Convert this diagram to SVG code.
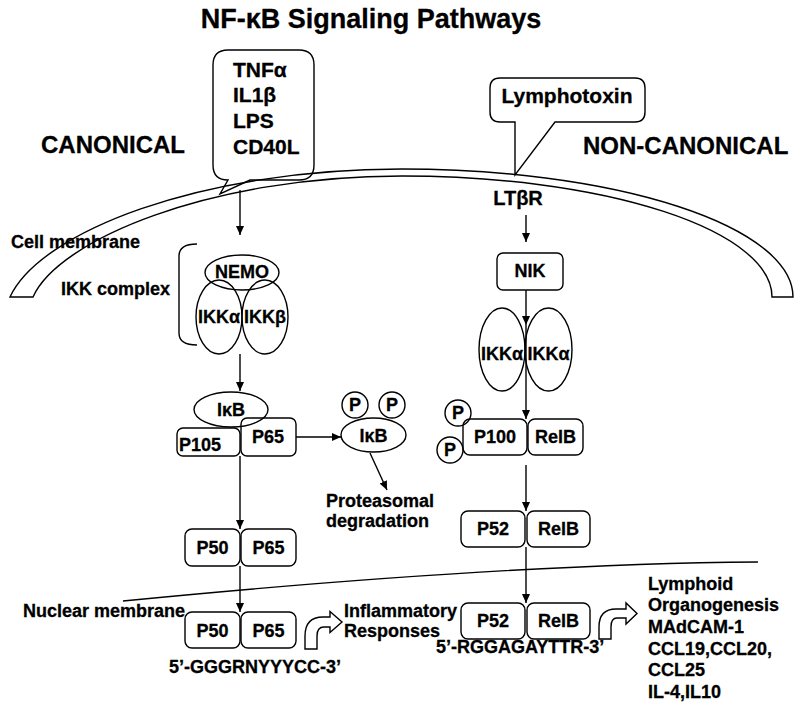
<svg xmlns="http://www.w3.org/2000/svg" width="800" height="707" viewBox="0 0 800 707">
<defs>
<marker id="ah" markerUnits="userSpaceOnUse" markerWidth="10" markerHeight="10" refX="9" refY="4.5" orient="auto">
<path d="M0,0.5 L9,4.5 L0,8.5 Z" fill="#000"/>
</marker>
<style>
text{font-family:"Liberation Sans",Arial,sans-serif;font-weight:bold;fill:#000;stroke:#000;stroke-width:0.3;}
.t18{font-size:18px;}
.t21{font-size:21px;}
.t24{font-size:24px;}
.mid{text-anchor:middle;}
.box{fill:none;stroke:#000;stroke-width:1.4;}
.ln{fill:none;stroke:#000;stroke-width:1.4;}
.arr{fill:none;stroke:#000;stroke-width:1.4;marker-end:url(#ah);}
</style>
</defs>
<rect width="800" height="707" fill="#fff"/>

<text x="371" y="28" class="mid" style="font-size:27px">NF-κB Signaling Pathways</text>
<text x="41" y="153" class="t24">CANONICAL</text>
<text x="583" y="154" class="t24">NON-CANONICAL</text>

<g id="stimulus-canonical">
<path class="box" d="M228,50 H299 Q314,50 314,65 V165 Q314,180 299,180 H250 L220,194 L228,180 Q213,180 213,165 V65 Q213,50 228,50 Z"/>
<text x="233" y="77" class="t21">TNFα</text>
<text x="233" y="102" class="t21">IL1β</text>
<text x="233" y="128" class="t21">LPS</text>
<text x="233" y="154" class="t21">CD40L</text>
</g>

<g id="stimulus-lymphotoxin">
<path class="box" d="M500,78 H635 Q645,78 645,88 V112 Q645,122 635,122 H555 L515,175 L515,122 H500 Q490,122 490,112 V88 Q490,78 500,78 Z" fill="#fff"/>
<text x="567" y="103" class="t21 mid">Lymphotoxin</text>
</g>

<g id="cell-membrane">
<path class="ln" d="M10,297 C40,232 200,169 401.5,169 A391.5,128 0 0 1 793,297 L772,297 A370,121 0 0 0 402,176 C210,176 58,240 33,297 Z"/>
<text x="11" y="248" class="t18">Cell membrane</text>
</g>

<g id="nuclear-membrane">
<path class="ln" d="M123,601 Q500,564 758,562"/>
<text x="23" y="617" class="t18">Nuclear membrane</text>
</g>

<g id="ikk-complex">
<path class="ln" d="M197,244 Q179,244 179,256 V333 Q179,345 197,345"/>
<text x="61" y="295" class="t18">IKK complex</text>
<ellipse cx="219" cy="317" rx="23" ry="37" class="box"/>
<ellipse cx="265" cy="317" rx="23" ry="37" class="box"/>
<ellipse cx="242" cy="272.5" rx="37" ry="17.5" class="box"/>
<text x="242" y="278" class="t18 mid">NEMO</text>
<text x="219" y="323" class="t18 mid">IKKα</text>
<text x="265" y="323" class="t18 mid">IKKβ</text>
</g>

<g id="ikb-p105-p65">
<rect x="177" y="428" width="63" height="28" rx="6" class="box"/>
<rect x="241" y="418" width="55" height="38" rx="6" class="box"/>
<ellipse cx="231" cy="409.5" rx="37" ry="17.5" class="box"/>
<text x="231" y="416" class="t18 mid">IκB</text>
<text x="179" y="451" class="t18">P105</text>
<text x="268" y="443" class="t18 mid">P65</text>
</g>

<g id="p-ikb">
<circle cx="355" cy="405" r="13" class="box"/>
<circle cx="392" cy="405" r="13" class="box"/>
<text x="355" y="411" class="t18 mid">P</text>
<text x="392" y="411" class="t18 mid">P</text>
<ellipse cx="373.5" cy="435" rx="32.5" ry="17" class="box"/>
<text x="373.5" y="442" class="t18 mid">IκB</text>
</g>

<g id="proteasomal">
<text x="326" y="507" class="t18">Proteasomal</text>
<text x="326" y="527" class="t18">degradation</text>
</g>

<g id="p50-p65-cyto">
<rect x="185" y="529" width="55" height="37" rx="7" class="box"/>
<rect x="241" y="529" width="55" height="37" rx="7" class="box"/>
<text x="212.5" y="554" class="t18 mid">P50</text>
<text x="268.5" y="554" class="t18 mid">P65</text>
</g>

<g id="p50-p65-nuc">
<rect x="185" y="612" width="55" height="36" rx="7" class="box"/>
<rect x="241" y="612" width="55" height="36" rx="7" class="box"/>
<text x="212.5" y="637" class="t18 mid">P50</text>
<text x="268.5" y="637" class="t18 mid">P65</text>
<text x="169" y="673" class="t18">5’-GGGRNYYYCC-3’</text>
</g>

<g id="inflammatory">
<path class="box" d="M305,649 V636 Q305,617 323,617 H330 V611.5 L342,622 L330,632.5 V627 H324 Q317,627 317,636 V649 Z"/>
<text x="344" y="617" class="t18">Inflammatory</text>
<text x="344" y="637" class="t18">Responses</text>
</g>

<g id="ltbr">
<text x="518" y="205" class="mid" style="font-size:20px">LTβR</text>
</g>

<g id="nik">
<rect x="497" y="253" width="66" height="37" rx="6" class="box"/>
<text x="530" y="277" class="t18 mid">NIK</text>
</g>

<g id="ikka-dimer">
<ellipse cx="502" cy="349.5" rx="23" ry="41.5" class="box"/>
<ellipse cx="548.5" cy="349.5" rx="23.5" ry="41.5" class="box"/>
<text x="502" y="360" class="t18 mid">IKKα</text>
<text x="548.5" y="360" class="t18 mid">IKKα</text>
</g>

<g id="p100-relb">
<rect x="463" y="419" width="64" height="36" rx="7" class="box"/>
<rect x="528" y="419" width="55" height="36" rx="7" class="box"/>
<circle cx="458" cy="413" r="13" class="box"/>
<circle cx="450" cy="450" r="13" class="box"/>
<text x="458" y="419" class="t18 mid">P</text>
<text x="450" y="456" class="t18 mid">P</text>
<text x="495" y="443" class="t18 mid">P100</text>
<text x="555.5" y="443" class="t18 mid">RelB</text>
</g>

<g id="p52-relb-cyto">
<rect x="461" y="511" width="64" height="36" rx="7" class="box"/>
<rect x="527" y="511" width="63" height="36" rx="7" class="box"/>
<text x="493" y="535" class="t18 mid">P52</text>
<text x="558.5" y="535" class="t18 mid">RelB</text>
</g>

<g id="p52-relb-nuc">
<rect x="461" y="603" width="64" height="36" rx="7" class="box"/>
<rect x="527" y="603" width="63" height="36" rx="7" class="box"/>
<text x="493" y="627" class="t18 mid">P52</text>
<text x="558.5" y="627" class="t18 mid">RelB</text>
<text x="436" y="653" class="t18">5’-RGGAGAYTTR-3’</text>
</g>

<g id="lymphoid">
<path class="box" d="M599,639 V627 Q599,609 616,609 H626 V603 L637,613.5 L626,624 V618 H617 Q611,618 611,627 V639 Z"/>
<text x="648" y="590" class="t18">Lymphoid</text>
<text x="648" y="611" class="t18">Organogenesis</text>
<text x="648" y="633" class="t18">MAdCAM-1</text>
<text x="648" y="655" class="t18">CCL19,CCL20,</text>
<text x="648" y="676" class="t18">CCL25</text>
<text x="648" y="698" class="t18">IL-4,IL10</text>
</g>

<g id="connectors">
<line x1="240" y1="190" x2="240" y2="235" class="arr"/>
<line x1="240" y1="354" x2="240" y2="391" class="arr"/>
<line x1="240" y1="456" x2="240" y2="529" class="arr"/>
<line x1="240" y1="566" x2="240" y2="612" class="arr"/>
<line x1="296" y1="437" x2="341" y2="437" class="arr"/>
<line x1="370" y1="453" x2="387" y2="490" class="arr"/>
<line x1="526" y1="215" x2="526" y2="242" class="arr"/>
<line x1="526" y1="290" x2="526" y2="325" class="arr"/>
<line x1="526" y1="325" x2="526" y2="419" class="arr"/>
<line x1="526" y1="465" x2="526" y2="511" class="arr"/>
<line x1="526" y1="547" x2="526" y2="603" class="arr"/>
</g>
</svg>
